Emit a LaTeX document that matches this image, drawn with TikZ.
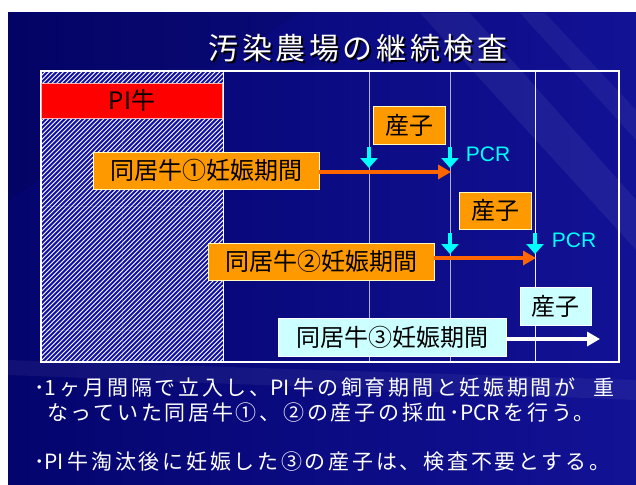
\documentclass[tikz,border=0pt]{standalone}
\usepackage{fontspec}
\setmainfont{Noto Sans CJK JP}
\newfontfamily\titlefont[LetterSpace=12]{Noto Sans CJK JP}
\newfontfamily\bodyfont[LetterSpace=13]{Noto Sans CJK JP}
\newfontfamily\latinfont{Noto Sans CJK JP}
\newcommand\lat[1]{{\latinfont\fontsize{21}{21}\selectfont #1}}
\setsansfont{Liberation Sans}
\usetikzlibrary{arrows.meta}
\definecolor{navybg}{RGB}{4,4,110}
\definecolor{navyright}{RGB}{18,18,150}
\definecolor{hatchblue}{RGB}{16,16,165}
\definecolor{orangefill}{RGB}{255,153,0}
\definecolor{arroworange}{RGB}{255,102,0}
\definecolor{cyanbox}{RGB}{204,255,255}
\definecolor{brightcyan}{RGB}{0,255,255}
\definecolor{gridline}{RGB}{175,175,225}
\begin{document}
\begin{tikzpicture}[x=1pt,y=-1pt,
  box/.style={draw=white!75!yellow, line width=0.8pt, inner sep=0pt, text=black,
    font=\fontsize{24}{24}\selectfont},
  orangebox/.style={box, fill=orangefill},
  redbox/.style={box, fill=red, draw=white!70!red},
  lightbox/.style={box, fill=cyanbox, draw=white},
  pcr/.style={text=brightcyan, font=\sffamily\fontsize{21}{21}\selectfont, inner sep=0pt},
  downarrow/.style={draw=brightcyan, line width=4pt, -{Triangle[length=10pt,width=17pt]}},
  periodarrow/.style={draw=arroworange, line width=4pt, -{Triangle[length=13pt,width=14pt]}},
  whitearrow/.style={draw=white, line width=4pt, -{Triangle[length=13pt,width=14pt]}},
  bullet/.style={text=white, anchor=west, inner sep=0pt, font=\bodyfont\fontsize{21}{21}\selectfont},
  vline/.style={draw=gridline, line width=1pt}
]
\useasboundingbox (0,0) rectangle (636,484);
\fill[white] (0,0) rectangle (636,484);
% slide background
\shade[left color=navybg, right color=navyright] (8,13) rectangle (636,484);
\begin{scope}
\clip (8,13) rectangle (636,484);
\fill[white, opacity=0.06] (420,13) -- (470,13) -- (636,200) -- (636,250) -- cycle;
\fill[white, opacity=0.05] (520,13) -- (545,13) -- (636,110) -- (636,140) -- cycle;
\fill[white, opacity=0.05] (8,360) -- (636,380) -- (636,400) -- (8,375) -- cycle;
\fill[black, opacity=0.08] (8,13) -- (300,13) -- (8,200) -- cycle;
\end{scope}

% title with shadow
\node[text=white, font=\titlefont\fontsize{30}{30}\selectfont] (title) at (358,49)
  {\makebox[0pt][l]{\hspace{2pt}\raisebox{-2pt}{\color{black}汚染農場の継続検査}}汚染農場の継続検査};

% hatched PI period
\begin{scope}
\clip (41,71) rectangle (223,362);
\fill[white] (41,71) rectangle (223,362);
\foreach \i in {0,...,105} {
  \draw[hatchblue, line width=2pt] ({-256+\i*4.6},366) -- ++(300,-300);
}
\draw[white, opacity=0.15, line width=1pt] (41,206) -- (223,206);
\draw[white, opacity=0.15, line width=1pt] (41,330) -- (223,330);
\draw[white, opacity=0.12, line width=1pt] (122,71) -- (122,362);
\end{scope}

% time grid lines
\coordinate (t1top) at (369,71);  \coordinate (t1bot) at (369,362);
\coordinate (t2top) at (450,71);  \coordinate (t2bot) at (450,362);
\coordinate (t3top) at (535,71);  \coordinate (t3bot) at (535,362);
\draw[vline] (t1top) -- (t1bot);
\draw[vline] (t2top) -- (t2bot);
\draw[vline, draw=white!85!gridline] (t3top) -- (t3bot);
\draw[white, line width=0.8pt] (223,71) -- (223,362);
% frame
\draw[white, line width=1.6pt] (41,71) rectangle (619,362);

% boxes
\node[redbox, minimum width=181pt, minimum height=35pt] (pi) at (132,100.5) {PI牛};
\node[orangebox, minimum width=72pt, minimum height=38pt] (calf1) at (409,125) {産子};
\node[orangebox, minimum width=226pt, minimum height=37pt] (cow1) at (206,170.5) {同居牛①妊娠期間};
\node[orangebox, minimum width=72pt, minimum height=37pt] (calf2) at (495,210.5) {産子};
\node[orangebox, minimum width=226pt, minimum height=37pt] (cow2) at (321,261.5) {同居牛②妊娠期間};
\node[lightbox, minimum width=71pt, minimum height=38pt] (calf3) at (555.5,306.5) {産子};
\node[lightbox, minimum width=228pt, minimum height=38pt] (cow3) at (392,337) {同居牛③妊娠期間};

% PCR labels
\node[pcr] (pcr1) at (488,154) {PCR};
\node[pcr] (pcr2) at (574,240) {PCR};

% sampling arrows
\coordinate (s1a) at (369,147); \coordinate (s1b) at (369,168);
\coordinate (s2a) at (450,147); \coordinate (s2b) at (450,168);
\coordinate (s3a) at (450,233); \coordinate (s3b) at (450,254);
\coordinate (s4a) at (535,233); \coordinate (s4b) at (535,254);
\draw[downarrow] (s1a) -- (s1b);
\draw[downarrow] (s2a) -- (s2b);
\draw[downarrow] (s3a) -- (s3b);
\draw[downarrow] (s4a) -- (s4b);

% pregnancy period arrows
\coordinate (e1) at (451,172);
\coordinate (e2) at (536,258);
\coordinate (e3) at (600,339);
\draw[periodarrow] (cow1.east |- e1) -- (e1);
\draw[periodarrow] (cow2.east |- e2) -- (e2);
\draw[whitearrow] (cow3.east |- e3) -- (e3);

% bullet text
\node[bullet] (line1) at (34,387) {･\lat{1}\,ヶ月間隔で立入し、\lat{PI}\,牛の飼育期間と妊娠期間が\hspace{18pt}重};
\node[bullet] (line2) at (47,413) {なっていた同居牛①、②の産子の採血･\lat{PCR}\,を行う。};
\node[bullet] (line3) at (34,462) {･\lat{PI}\,牛淘汰後に妊娠した③の産子は、検査不要とする。};
\end{tikzpicture}
\end{document}
